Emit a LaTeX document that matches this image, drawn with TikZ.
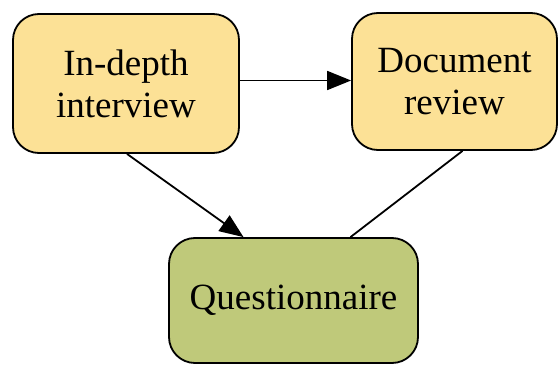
\documentclass[tikz,border=0pt]{standalone}
\usepackage{fontspec}
\setmainfont{Liberation Serif}
\usetikzlibrary{arrows.meta}
\definecolor{methodfill}{RGB}{252,225,150}
\definecolor{resultfill}{RGB}{191,201,122}
\tikzset{
  method/.style={draw=black, line width=1.8pt, rounded corners=26pt, align=center,
    font=\fontsize{37}{42}\selectfont, inner sep=0pt},
  link/.style={line width=1.8pt},
  flow/.style={link, -{Triangle[length=24pt,width=19pt]}}
}
\begin{document}
\begin{tikzpicture}[x=1pt,y=1pt]
  \useasboundingbox (0,0) rectangle (560,365);
  \node[method, fill=methodfill, minimum width=226pt, minimum height=139pt]
    (interview) at (126,281.5) {In-depth\\interview};
  \node[method, fill=methodfill, minimum width=205pt, minimum height=137pt]
    (document) at (454.5,283.5) {Document\\review};
  \node[method, fill=resultfill, minimum width=249pt, minimum height=125pt]
    (survey) at (293.5,64.5) {Questionnaire};
  \draw[flow] ([yshift=3pt]interview.east) -- ([yshift=1pt]document.west);
  \draw[flow] ([xshift=1pt]interview.south) -- ([xshift=-50pt]survey.north);
  \draw[link] ([xshift=8pt]document.south) -- ([xshift=57pt]survey.north);
\end{tikzpicture}
\end{document}
